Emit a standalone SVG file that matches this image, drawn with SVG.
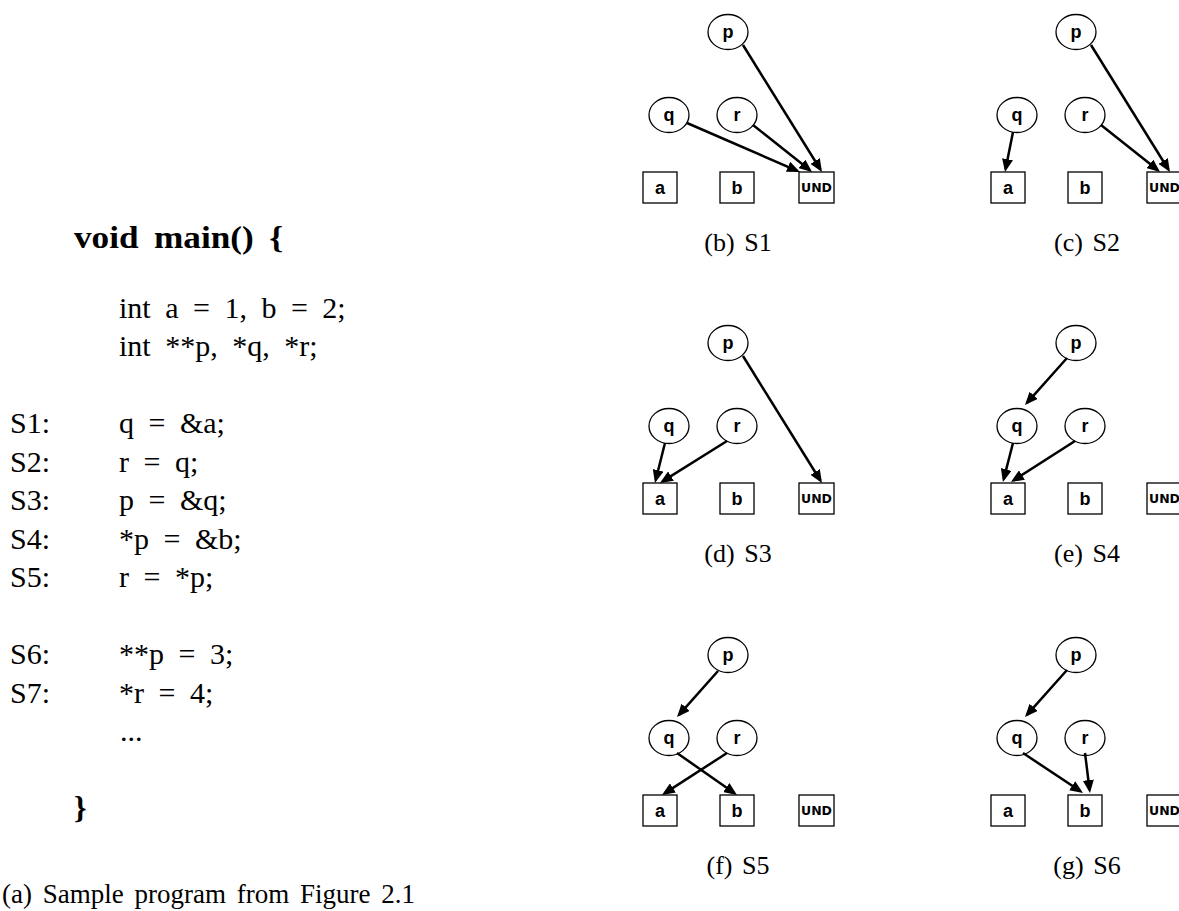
<svg xmlns="http://www.w3.org/2000/svg" width="1179" height="911" viewBox="0 0 1179 911">
<style>
.code{font-family:"Liberation Serif","Times New Roman",serif;font-size:30px;fill:#000;word-spacing:7px}
.bold{font-weight:bold;font-size:32px;word-spacing:6px}
.cap{font-family:"Liberation Serif","Times New Roman",serif;font-size:26px;fill:#000;text-anchor:middle;word-spacing:3px}
.node ellipse,.node rect{fill:#fff;stroke:#000;stroke-width:1.3}
.lbl{font-family:"Liberation Sans",Arial,sans-serif;font-weight:bold;font-size:18px;text-anchor:middle;fill:#000}
.und{font-family:"DejaVu Sans",sans-serif;font-weight:bold;font-size:12.5px;text-anchor:middle;fill:#000}
.edge{stroke:#000;stroke-width:2.5;fill:none;marker-end:url(#ah)}
</style>
<defs>
<marker id="ah" viewBox="0 0 13 11" refX="10" refY="5.5" markerWidth="13" markerHeight="11" markerUnits="userSpaceOnUse" orient="auto">
<path d="M0,0 L13,5.5 L0,11 z" fill="#000"/>
</marker>
<g id="tpl">
<g class="node"><ellipse cx="728" cy="32" rx="20" ry="17.5"/><text class="lbl" x="728" y="38">p</text></g>
<g class="node"><ellipse cx="669" cy="115" rx="20" ry="17.5"/><text class="lbl" x="669" y="121">q</text></g>
<g class="node"><ellipse cx="737" cy="115" rx="20" ry="17.5"/><text class="lbl" x="737" y="121">r</text></g>
<g class="node"><rect x="643" y="172" width="34" height="31"/><text class="lbl" x="660" y="194">a</text></g>
<g class="node"><rect x="720" y="172" width="34" height="31"/><text class="lbl" x="737" y="194">b</text></g>
<g class="node"><rect x="799" y="172" width="35" height="31"/><text class="und" x="816.5" y="192">UND</text></g>
</g>
</defs>

<g id="program">
<text class="code bold" x="74" y="248" textLength="209" lengthAdjust="spacingAndGlyphs">void main() {</text>
<text class="code" x="119" y="318">int a = 1, b = 2;</text>
<text class="code" x="119" y="356">int **p, *q, *r;</text>
<text class="code" x="10" y="433">S1:</text><text class="code" x="119" y="433">q = &amp;a;</text>
<text class="code" x="10" y="472">S2:</text><text class="code" x="119" y="472">r = q;</text>
<text class="code" x="10" y="510">S3:</text><text class="code" x="119" y="510">p = &amp;q;</text>
<text class="code" x="10" y="549">S4:</text><text class="code" x="119" y="549">*p = &amp;b;</text>
<text class="code" x="10" y="587">S5:</text><text class="code" x="119" y="587">r = *p;</text>
<text class="code" x="10" y="664">S6:</text><text class="code" x="119" y="664">**p = 3;</text>
<text class="code" x="10" y="703">S7:</text><text class="code" x="119" y="703">*r = 4;</text>
<text class="code" x="120" y="741">...</text>
<text class="code bold" x="74" y="818">}</text>
<text class="code" x="2" y="903" style="font-size:27px;word-spacing:4px">(a) Sample program from Figure 2.1</text>
</g>

<g id="graph-b"><use href="#tpl"/></g>
<g id="graph-c"><use href="#tpl" transform="translate(348,0)"/></g>
<g id="graph-d"><use href="#tpl" transform="translate(0,311)"/></g>
<g id="graph-e"><use href="#tpl" transform="translate(348,311)"/></g>
<g id="graph-f"><use href="#tpl" transform="translate(0,623)"/></g>
<g id="graph-g"><use href="#tpl" transform="translate(348,623)"/></g>

<g id="connectors">
<path class="edge" d="M687,123 L797.2,170.8"/>
<path class="edge" d="M753,125 L809.7,170.1"/>
<path class="edge" d="M743,45 L820.4,169.5"/>

<path class="edge" d="M1013,132 L1005.6,169.1"/>
<path class="edge" d="M1101,125 L1157.7,170.1"/>
<path class="edge" d="M1091,45 L1168.4,169.5"/>

<path class="edge" d="M665,443 L655.7,480.1"/>
<path class="edge" d="M727,441 L662.5,481.4"/>
<path class="edge" d="M743,356 L820.4,480.5"/>

<path class="edge" d="M1067,358 L1027,402.8"/>
<path class="edge" d="M1013,443 L1003.7,479.1"/>
<path class="edge" d="M1075,441 L1013.5,480.4"/>

<path class="edge" d="M718,671 L679,714.8"/>
<path class="edge" d="M677,753 L734.5,793.3"/>
<path class="edge" d="M727,753 L664.5,793.4"/>

<path class="edge" d="M1067,670 L1027,714.8"/>
<path class="edge" d="M1023,753 L1080.5,791.3"/>
<path class="edge" d="M1085,753 L1089.6,790"/>
</g>

<g id="captions">
<text class="cap" x="738" y="251">(b) S1</text>
<text class="cap" x="1087" y="251">(c) S2</text>
<text class="cap" x="738" y="562">(d) S3</text>
<text class="cap" x="1087" y="562">(e) S4</text>
<text class="cap" x="738" y="874">(f) S5</text>
<text class="cap" x="1087" y="874">(g) S6</text>
</g>
</svg>
